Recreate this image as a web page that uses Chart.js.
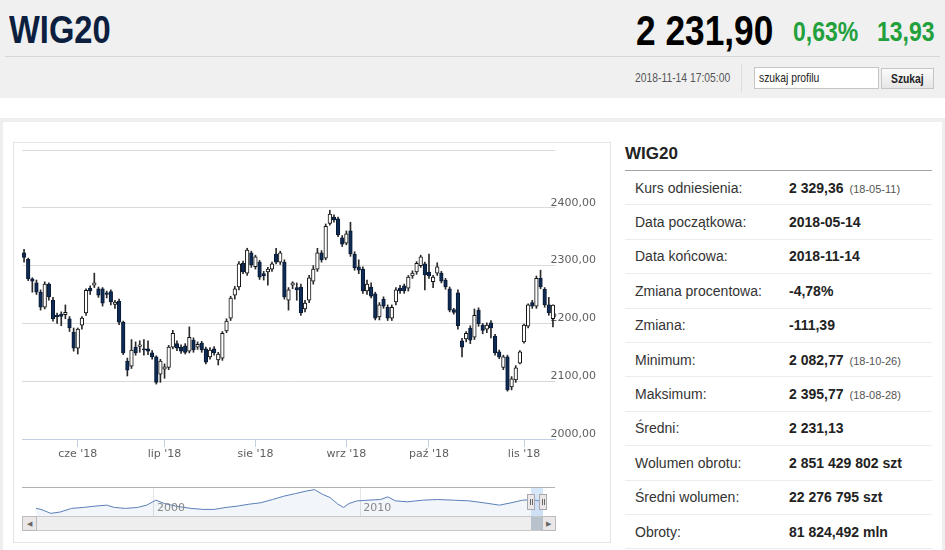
<!DOCTYPE html>
<html lang="pl">
<head>
<meta charset="utf-8">
<title>WIG20</title>
<script src="https://cdn.jsdelivr.net/npm/chart.js@4.4.0/dist/chart.umd.min.js"></script>
<style>
  html, body { margin: 0; padding: 0; }
  body { width: 945px; height: 550px; overflow: hidden; position: relative; background: #fff;
         font-family: "Liberation Sans", Arial, sans-serif; }
  .abs { position: absolute; }
  /* narrow look for the header texts */
  .narrow { font-family: "Liberation Sans", Arial, sans-serif; transform: scaleX(0.82); transform-origin: left top; white-space: nowrap; }
  #head { left: 0; top: 0; width: 945px; height: 98px; background: #f0f0f0; }
  #title { left: 9px; top: 11px; font-size: 38px; line-height: 38px; font-weight: bold; color: #0c1f3f; transform: scaleX(0.86); }
  #price { left: 636px; top: 9px; font-size: 43px; line-height: 43px; font-weight: bold; color: #000; }
  .chg { top: 18px; font-size: 28px; line-height: 28px; font-weight: bold; color: #22a03c; }
  #rule { left: 5px; top: 56px; width: 935px; height: 1px; background: #d6d6d6; }
  #stamp { left: 635px; top: 71px; font-size: 12.6px; line-height: 14px; color: #555; }
  #sep { left: 741px; top: 64px; width: 1px; height: 28px; background: #dcdcdc; }
  #search { left: 754px; top: 67px; width: 123px; height: 20px; border: 1px solid #c6c6c6; background: #fff; }
  #search span { position: absolute; left: 4px; top: 3px; font-size: 12.6px; line-height: 14px; color: #222; }
  #btn { left: 881px; top: 68px; width: 51px; height: 19px; border: 1px solid #c6c6c6;
         background: linear-gradient(#fbfbfb, #e6e6e6); }
  #btn span { position: absolute; left: 9px; top: 3px; font-size: 12.6px; line-height: 14px; font-weight: bold; color: #222; }
  #panel { left: 0; top: 118px; width: 939px; height: 440px; border: 3px solid #eeeeee; border-top-width: 4px; }
  #box { left: 13px; top: 142px; width: 596px; height: 399px; border: 1px solid #e4e4e4; }
  #mainChart { left: 13px; top: 142px; }
  #navChart { left: 13px; top: 480px; }
  #navTop { left: 22px; top: 487px; width: 533px; height: 1px; background: #b2b1b6; }
  #navSel { left: 531px; top: 488px; width: 12px; height: 28px; background: rgba(128,179,236,0.32); }
  .handle { top: 494px; width: 6px; height: 14px; background: #ebe7e8; border: 1px solid #a8a8ad; }
  .handle i { position: absolute; top: 4px; width: 1px; height: 6px; background: #666; }
  #scroll { left: 22px; top: 516px; width: 532px; height: 13px; background: #eeeeee; border: 1px solid #c8c8c8; }
  .sbtn { top: 516px; width: 13px; height: 13px; background: #ebe7e8; border: 1px solid #bbbbbb;
          font-size: 7px; line-height: 13px; text-align: center; color: #666; }
  #thumb { left: 531px; top: 517px; width: 12px; height: 13px; background: #b8c2cd; }
  #sideTitle { left: 625px; top: 144px; font-size: 17px; line-height: 20px; font-weight: bold; color: #222; }
  #sideRule { left: 625px; top: 170px; width: 307px; height: 1px; background: #a3a3a3; }
  table.stats { position: absolute; left: 625px; top: 171px; width: 307px; border-collapse: collapse; }
  table.stats td { height: 33.4px; padding: 0; border-bottom: 1px solid #ececec; font-size: 14px; color: #333; }
  table.stats td.l { padding-left: 10px; width: 154px; }
  table.stats td.v { font-weight: bold; color: #222; }
  table.stats small { font-weight: normal; font-size: 11px; color: #555; margin-left: 6px; }
</style>
</head>
<body>
<div id="head" class="abs"></div>
<div id="title" class="abs narrow">WIG20</div>
<div id="price" class="abs narrow">2 231,90</div>
<div class="abs narrow chg" style="left:793px">0,63%</div>
<div class="abs narrow chg" style="left:877px">13,93</div>
<div id="rule" class="abs"></div>
<div id="stamp" class="abs narrow">2018-11-14 17:05:00</div>
<div id="sep" class="abs"></div>
<div id="search" class="abs"><span class="narrow">szukaj profilu</span></div>
<div id="btn" class="abs"><span class="narrow">Szukaj</span></div>

<div id="panel" class="abs"></div>
<div id="box" class="abs"></div>
<canvas id="mainChart" class="abs" width="597" height="330"></canvas>
<canvas id="navChart" class="abs" width="597" height="36"></canvas>
<div id="navTop" class="abs"></div>
<div id="navSel" class="abs"></div>
<div class="abs handle" style="left:527px"><i style="left:2px"></i><i style="left:4px"></i></div>
<div class="abs handle" style="left:539px"><i style="left:2px"></i><i style="left:4px"></i></div>
<div id="scroll" class="abs"></div>
<div class="abs sbtn" style="left:22px">&#9664;</div>
<div class="abs sbtn" style="left:541px">&#9654;</div>
<div id="thumb" class="abs"></div>

<div id="sideTitle" class="abs">WIG20</div>
<div id="sideRule" class="abs"></div>
<table class="stats">
  <tr><td class="l">Kurs odniesienia:</td><td class="v">2 329,36<small>(18-05-11)</small></td></tr>
  <tr><td class="l">Data początkowa:</td><td class="v">2018-05-14</td></tr>
  <tr><td class="l">Data końcowa:</td><td class="v">2018-11-14</td></tr>
  <tr><td class="l">Zmiana procentowa:</td><td class="v">-4,78%</td></tr>
  <tr><td class="l">Zmiana:</td><td class="v">-111,39</td></tr>
  <tr><td class="l">Minimum:</td><td class="v">2 082,77<small>(18-10-26)</small></td></tr>
  <tr><td class="l">Maksimum:</td><td class="v">2 395,77<small>(18-08-28)</small></td></tr>
  <tr><td class="l">Średni:</td><td class="v">2 231,13</td></tr>
  <tr><td class="l">Wolumen obrotu:</td><td class="v">2 851 429 802 szt</td></tr>
  <tr><td class="l">Średni wolumen:</td><td class="v">22 276 795 szt</td></tr>
  <tr><td class="l">Obroty:</td><td class="v">81 824,492 mln</td></tr>
</table>

<script>
// sessions 2018-05-14 .. 2018-11-14
const dates = [
  '2018-05-14','2018-05-15','2018-05-16','2018-05-17','2018-05-18',
  '2018-05-21','2018-05-22','2018-05-23','2018-05-24','2018-05-25',
  '2018-05-28','2018-05-29','2018-05-30',
  '2018-06-01','2018-06-04','2018-06-05','2018-06-06','2018-06-07','2018-06-08',
  '2018-06-11','2018-06-12','2018-06-13','2018-06-14','2018-06-15',
  '2018-06-18','2018-06-19','2018-06-20','2018-06-21','2018-06-22',
  '2018-06-25','2018-06-26','2018-06-27','2018-06-28','2018-06-29',
  '2018-07-02','2018-07-03','2018-07-04','2018-07-05','2018-07-06',
  '2018-07-09','2018-07-10','2018-07-11','2018-07-12','2018-07-13',
  '2018-07-16','2018-07-17','2018-07-18','2018-07-19','2018-07-20',
  '2018-07-23','2018-07-24','2018-07-25','2018-07-26','2018-07-27',
  '2018-07-30','2018-07-31',
  '2018-08-01','2018-08-02','2018-08-03',
  '2018-08-06','2018-08-07','2018-08-08','2018-08-09','2018-08-10',
  '2018-08-13','2018-08-14','2018-08-16','2018-08-17',
  '2018-08-20','2018-08-21','2018-08-22','2018-08-23','2018-08-24',
  '2018-08-27','2018-08-28','2018-08-29','2018-08-30','2018-08-31',
  '2018-09-03','2018-09-04','2018-09-05','2018-09-06','2018-09-07',
  '2018-09-10','2018-09-11','2018-09-12','2018-09-13','2018-09-14',
  '2018-09-17','2018-09-18','2018-09-19','2018-09-20','2018-09-21',
  '2018-09-24','2018-09-25','2018-09-26','2018-09-27','2018-09-28',
  '2018-10-01','2018-10-02','2018-10-03','2018-10-04','2018-10-05',
  '2018-10-08','2018-10-09','2018-10-10','2018-10-11','2018-10-12',
  '2018-10-15','2018-10-16','2018-10-17','2018-10-18','2018-10-19',
  '2018-10-22','2018-10-23','2018-10-24','2018-10-25','2018-10-26',
  '2018-10-29','2018-10-30','2018-10-31',
  '2018-11-02','2018-11-05','2018-11-06','2018-11-07','2018-11-08','2018-11-09',
  '2018-11-13','2018-11-14'
];

const opens = [
  2322,2311,2277,2270,2254,2228,2268,2240,2214,2216,2215,2208,2185,
  2157,2197,2218,2261,2266,2260,2260,2253,2255,2233,2238,2202,2135,2126,2159,2160,2156,2156,2149,2142,2112,
  2121,2124,2159,2165,2159,2161,2152,2171,2159,2166,2156,2142,2156,2137,2140,2187,2209,2249,2263,2304,2287,2322,
  2298,2306,2286,2289,2294,2320,2306,2306,2240,2266,2262,2263,2225,2240,2273,2294,2322,2313,2373,2384,2381,2348,
  2339,2360,2320,2298,2294,2256,2263,2251,2211,2242,2228,2209,2237,2261,2265,2261,2282,2289,2300,2303,
  2289,2272,2287,2287,2275,2260,2224,2253,2170,2173,2192,2176,2223,2197,2190,2201,2178,2151,2124,2142,2090,2102,2131,
  2168,2195,2236,2230,2278,2259,2232,2208
];
const highs = [
  2328,2313,2279,2275,2258,2272,2270,2245,2218,2220,2232,2212,2192,
  2192,2212,2260,2265,2287,2263,2262,2256,2258,2240,2242,2204,2140,2172,2168,2170,2172,2170,2153,2144,2138,
  2130,2162,2188,2170,2163,2165,2194,2175,2168,2169,2159,2158,2160,2150,2186,2208,2247,2264,2307,2308,2330,2325,
  2318,2309,2290,2297,2306,2330,2325,2310,2262,2272,2270,2268,2240,2283,2300,2330,2326,2372,2395.77,2388,2384,2352,
  2360,2375,2324,2310,2298,2275,2270,2254,2236,2246,2232,2232,2262,2266,2268,2283,2291,2307,2318,2306,
  2320,2283,2305,2290,2278,2263,2226,2258,2174,2186,2196,2225,2227,2200,2201,2205,2181,2154,2145,2145,2108,2127,2153,
  2199,2234,2240,2282,2292,2262,2245,2232
];
const lows = [
  2306,2274,2254,2250,2223,2225,2240,2204,2200,2196,2208,2186,2152,
  2147,2190,2214,2250,2262,2245,2230,2244,2232,2226,2198,2146,2109,2122,2145,2150,2145,2146,2138,2095,2098,
  2105,2120,2156,2153,2148,2147,2149,2150,2155,2150,2130,2138,2145,2128,2136,2184,2205,2242,2258,2286,2283,2297,
  2294,2276,2275,2266,2290,2303,2302,2242,2223,2260,2240,2214,2220,2236,2268,2290,2306,2310,2370,2375,2350,2333,
  2336,2316,2292,2286,2252,2250,2244,2206,2206,2226,2205,2205,2232,2252,2252,2256,2278,2285,2297,2258,
  2278,2262,2283,2270,2259,2220,2216,2190,2142,2168,2165,2172,2195,2182,2184,2175,2145,2139,2120,2082.77,2085,2098,2130,
  2166,2192,2226,2226,2260,2228,2214,2194
];
const closes = [
  2314,2277,2273,2254,2228,2268,2246,2208,2211,2212,2219,2192,2157,
  2190,2209,2257,2256,2270,2249,2235,2250,2237,2237,2202,2149,2119,2154,2149,2163,2154,2152,2142,2098,2135,
  2125,2159,2183,2157,2152,2150,2176,2154,2164,2154,2133,2154,2149,2147,2183,2204,2244,2260,2303,2289,2327,2301,
  2315,2280,2282,2294,2303,2306,2322,2246,2258,2270,2258,2218,2235,2279,2294,2322,2310,2368,2389,2379,2353,2337,
  2355,2320,2296,2292,2256,2268,2247,2209,2232,2230,2209,2228,2258,2256,2256,2280,2287,2304,2315,2284,
  2282,2280,2298,2273,2263,2223,2219,2196,2159,2183,2171,2214,2199,2188,2197,2192,2149,2142,2142,2085,2104,2123,2151,
  2197,2232,2230,2278,2263,2232,2218,2231.9
];

// month ticks on the date axis
const tickDates = ['2018-06-01','2018-07-02','2018-08-01','2018-09-03','2018-10-01','2018-11-02'];
const tickLabels = ["cze '18", "lip '18", "sie '18", "wrz '18", "paź '18", "lis '18"];

// navigator: long history of the index
const navYears = [
  1994.28,1994.52,1995.0,1995.45,1996.0,1996.57,1997.14,1997.7,1998.08,1998.62,1999.2,1999.65,
  2000.09,2000.5,2001.06,2001.8,2002.38,2002.92,2003.5,2004.04,2004.63,2005.17,2005.75,2006.29,
  2006.86,2007.41,2007.79,2008.17,2008.54,2008.92,2009.2,2009.46,2009.86,2010.39,2010.98,2011.34,
  2011.71,2012.28,2013.03,2013.76,2014.52,2015.27,2016.0,2016.76,2017.32,2017.88,2018.35,2018.87
];
const navValues = [
  1370,1233,700,878,1367,1500,1678,1811,1500,1367,1500,1811,
  2478,2033,1678,1367,1233,1233,1500,1678,1944,2122,2567,3011,
  3367,3722,3900,3278,2833,1944,1500,2033,2389,2478,2567,2922,
  2389,2256,2478,2567,2478,2389,2122,1811,2122,2478,2567,2256
];
const navTicks = [2000, 2010];

const axisFont = { family: 'DejaVu Sans', size: 11 };
const navy = '#0e2b55';

function fmt(v) {
  return v.toFixed(2).replace('.', ',');
}

new Chart(document.getElementById('mainChart'), {
  type: 'bar',
  data: {
    labels: dates,
    datasets: [
      {
        label: 'body',
        data: opens.map((o, i) => [o, closes[i]]),
        backgroundColor: (ctx) => closes[ctx.dataIndex] >= opens[ctx.dataIndex] ? '#ffffff' : navy,
        borderColor: (ctx) => closes[ctx.dataIndex] >= opens[ctx.dataIndex] ? '#111111' : '#0a1a33',
        borderWidth: 1,
        borderSkipped: false,
        barThickness: 3.6,
        grouped: false,
        order: 0
      },
      {
        label: 'wick',
        data: lows.map((l, i) => [l, highs[i]]),
        backgroundColor: '#2a2a2a',
        borderWidth: 0,
        barThickness: 1,
        grouped: false,
        order: 1
      }
    ]
  },
  options: {
    responsive: false,
    animation: false,
    layout: { padding: { top: 8, left: 9, right: 0, bottom: 0 } },
    plugins: { legend: { display: false }, tooltip: { enabled: false } },
    scales: {
      x: {
        type: 'category',
        offset: true,
        afterFit: (scale) => { scale.height = 33; },
        border: { display: true, color: '#C0D0E0', width: 1 },
        grid: {
          display: true,
          offset: false,
          drawOnChartArea: false,
          drawTicks: true,
          tickLength: 8,
          color: (ctx) => tickDates.includes(dates[ctx.index]) ? '#C0D0E0' : 'rgba(0,0,0,0)'
        },
        ticks: {
          autoSkip: false,
          maxRotation: 0,
          padding: 1,
          color: '#606060',
          font: axisFont,
          callback: (v, i) => {
            const k = tickDates.indexOf(dates[i]);
            return k >= 0 ? tickLabels[k] : '';
          }
        }
      },
      y: {
        position: 'right',
        min: 2000,
        max: 2500,
        // labels start a little inside the plot, as in the original
        afterFit: (scale) => { scale.width = 55; scale.paddingTop = 0; scale.paddingBottom = 0; },
        border: { display: false },
        grid: {
          drawTicks: false,
          color: (ctx) => ctx.tick && ctx.tick.value === 2000 ? 'rgba(0,0,0,0)' : '#d9d9d9'
        },
        ticks: {
          stepSize: 100,
          mirror: true,
          crossAlign: 'far',
          padding: 41,
          labelOffset: -5,
          color: '#606060',
          font: axisFont,
          callback: (v) => v === 2500 ? '' : fmt(v)
        }
      }
    }
  }
});

// navigator year labels sit inside the plot, next to their grid lines
const navLabels = {
  id: 'navLabels',
  afterDraw(chart) {
    const ctx = chart.ctx;
    const x = chart.scales.x;
    ctx.save();
    ctx.font = '11px "DejaVu Sans"';
    ctx.fillStyle = '#888888';
    ctx.textBaseline = 'middle';
    navTicks.forEach((t) => ctx.fillText(String(t), x.getPixelForValue(t) + 3, 28));
    ctx.restore();
  }
};

new Chart(document.getElementById('navChart'), {
  type: 'line',
  data: {
    datasets: [{
      data: navYears.map((y, i) => ({ x: y, y: navValues[i] })),
      borderColor: '#5a7fb8',
      borderWidth: 1,
      backgroundColor: 'rgba(69,114,167,0.07)',
      fill: 'start',
      pointRadius: 0,
      tension: 0
    }]
  },
  options: {
    responsive: false,
    animation: false,
    layout: { padding: { top: 7, left: 9, right: 55, bottom: 0 } },
    plugins: { legend: { display: false }, tooltip: { enabled: false } },
    scales: {
      x: {
        type: 'linear',
        min: 1993.6,
        max: 2019.45,
        afterFit: (scale) => { scale.height = 0; },
        afterBuildTicks: (scale) => { scale.ticks = navTicks.map((v) => ({ value: v })); },
        border: { display: false },
        grid: { drawTicks: false, color: '#e4e4e4' },
        ticks: { display: false }
      },
      y: { display: false, min: 344, max: 4256 }
    }
  },
  plugins: [navLabels]
});
</script>
</body>
</html>
